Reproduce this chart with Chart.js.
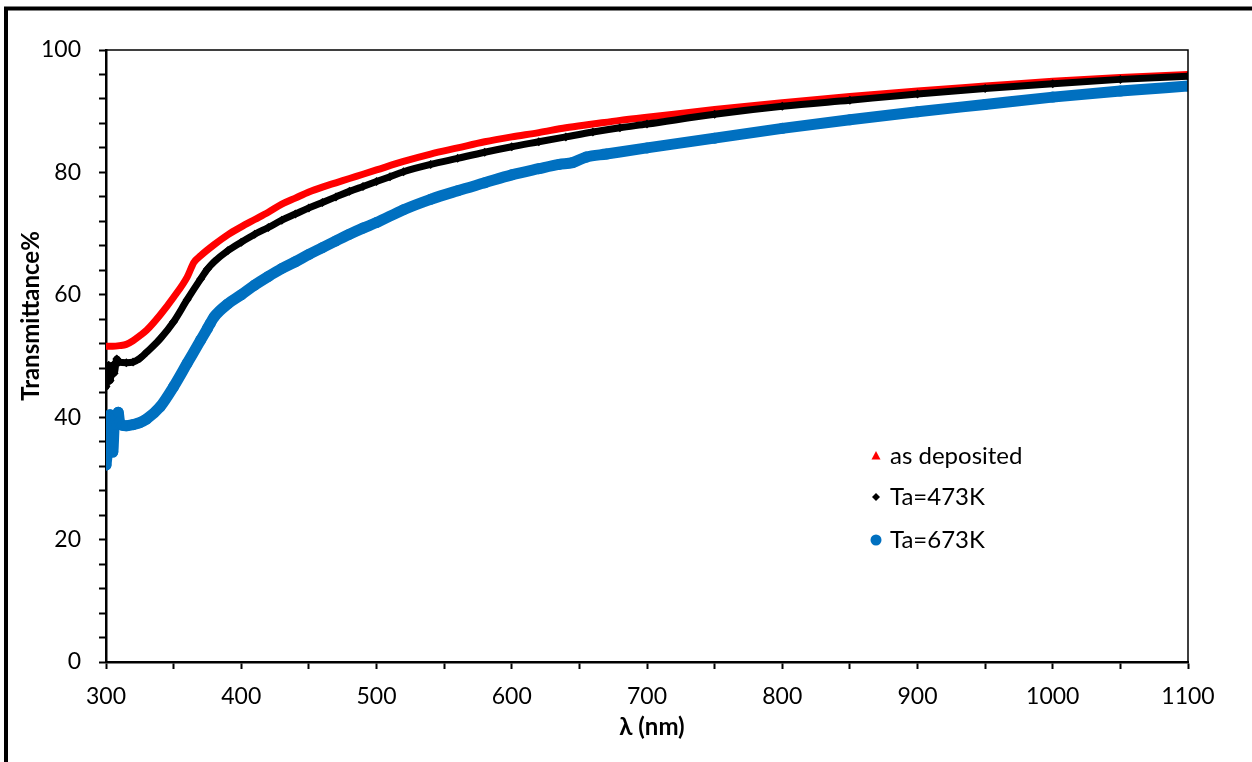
<!DOCTYPE html>
<html>
<head>
<meta charset="utf-8">
<script src="https://cdn.jsdelivr.net/npm/chart.js@4.4.0/dist/chart.umd.min.js"></script>
<style>
  html, body { margin: 0; padding: 0; background: #fff; }
  #wrap { width: 1252px; height: 762px; position: relative; }
</style>
</head>
<body>
<div id="wrap"><canvas id="chart" width="1252" height="762"></canvas></div>
<script>
// wavelength (nm) and transmittance (%)
const asDepX = [300, 305, 310, 315, 320, 325, 330, 340, 350, 360, 365, 370, 380, 390, 400, 410, 420, 430, 440, 450, 460, 470, 480, 490, 500, 520, 540, 560, 580, 600, 620, 640, 660, 680, 700, 750, 800, 850, 900, 950, 1000, 1050, 1100];
const asDepY = [51.6, 51.6, 51.7, 51.9, 52.5, 53.3, 54.2, 56.7, 59.6, 62.9, 65.3, 66.4, 68.2, 69.8, 71.1, 72.3, 73.5, 74.8, 75.8, 76.8, 77.6, 78.3, 79.0, 79.7, 80.4, 81.8, 83.0, 84.0, 85.0, 85.8, 86.5, 87.3, 87.9, 88.5, 89.0, 90.3, 91.4, 92.4, 93.3, 94.1, 94.9, 95.5, 96.0];

const t473X = [300, 301, 302, 303, 304, 305, 306, 308, 310, 315, 320, 325, 330, 340, 350, 360, 370, 375, 380, 390, 400, 410, 420, 430, 440, 450, 460, 470, 480, 490, 500, 510, 520, 540, 560, 580, 600, 620, 640, 660, 680, 700, 750, 800, 850, 900, 950, 1000, 1050, 1100];
const t473Y = [45.0, 46.5, 48.5, 46.0, 47.5, 48.5, 47.2, 49.5, 49.0, 48.9, 49.0, 49.6, 50.6, 52.8, 55.6, 59.2, 62.6, 64.2, 65.4, 67.2, 68.6, 69.9, 71.0, 72.2, 73.2, 74.2, 75.1, 76.0, 76.9, 77.7, 78.5, 79.3, 80.1, 81.3, 82.3, 83.3, 84.2, 85.0, 85.8, 86.6, 87.3, 87.9, 89.5, 90.8, 91.8, 92.8, 93.7, 94.5, 95.2, 95.7];

const t673X = [300, 301, 302, 303, 304, 305, 306, 307, 308, 309, 310, 312, 315, 320, 325, 330, 340, 350, 360, 370, 375, 377, 380, 390, 400, 410, 420, 430, 440, 450, 460, 470, 480, 490, 500, 520, 540, 560, 580, 600, 620, 635, 645, 655, 670, 700, 750, 800, 850, 900, 950, 1000, 1050, 1100];
const t673Y = [32.2, 34.3, 38.4, 40.4, 35.8, 34.3, 38.4, 40.0, 38.8, 40.8, 39.2, 38.7, 38.6, 38.8, 39.1, 39.7, 41.7, 45.0, 48.8, 52.6, 54.5, 55.3, 56.4, 58.5, 60.0, 61.6, 63.0, 64.3, 65.4, 66.6, 67.7, 68.8, 69.9, 70.9, 71.8, 73.9, 75.6, 77.0, 78.3, 79.6, 80.6, 81.3, 81.6, 82.5, 83.0, 84.0, 85.6, 87.2, 88.6, 89.9, 91.1, 92.3, 93.3, 94.1];

const seriesNames = ["as deposited", "Ta=473K", "Ta=673K"];
const xTitle = "λ (nm)";
const yTitle = "Transmittance%";
const FONT = "Lato, 'Open Sans', sans-serif";

function pts(xs, ys) {
  return xs.map((x, i) => ({ x: x, y: ys[i] }));
}

// white background, outer frame, top/right plot border, axis titles and legend
const decor = {
  id: "decor",
  beforeDraw(chart) {
    const c = chart.ctx;
    c.save();
    c.fillStyle = "#fff";
    c.fillRect(0, 0, chart.width, chart.height);
    c.strokeStyle = "#000";
    c.lineWidth = 4;
    c.beginPath();
    c.moveTo(6, chart.height);
    c.lineTo(6, 8.5);
    c.lineTo(chart.width, 8.5);
    c.stroke();
    c.restore();
  },
  afterDraw(chart) {
    const c = chart.ctx;
    const a = chart.chartArea;
    c.save();
    c.strokeStyle = "#000";
    c.lineWidth = 1.5;
    c.beginPath();
    c.moveTo(a.left, a.top);
    c.lineTo(a.right, a.top);
    c.lineTo(a.right, a.bottom);
    c.stroke();

    // axis titles
    c.fillStyle = "#000";
    c.font = "bold 24px " + FONT;
    c.textAlign = "center";
    c.textBaseline = "middle";
    c.fillText(xTitle, 652, 727);
    c.save();
    c.translate(31, 316);
    c.rotate(-Math.PI / 2);
    c.fillText(yTitle, 0, 0);
    c.restore();

    // legend
    const lx = 876, ly = [456, 497, 540];
    c.font = "24px " + FONT;
    c.textAlign = "left";
    seriesNames.forEach((n, i) => c.fillText(n, lx + 14, ly[i]));
    c.fillStyle = "#ff0000";
    c.beginPath();
    c.moveTo(lx, ly[0] - 5);
    c.lineTo(lx + 4.5, ly[0] + 3.5);
    c.lineTo(lx - 4.5, ly[0] + 3.5);
    c.closePath();
    c.fill();
    c.fillStyle = "#000";
    c.beginPath();
    c.moveTo(lx, ly[1] - 4);
    c.lineTo(lx + 4, ly[1]);
    c.lineTo(lx, ly[1] + 4);
    c.lineTo(lx - 4, ly[1]);
    c.closePath();
    c.fill();
    c.fillStyle = "#0070c0";
    c.beginPath();
    c.arc(lx, ly[2], 5.5, 0, Math.PI * 2);
    c.fill();
    c.restore();
  }
};

new Chart(document.getElementById("chart"), {
  type: "scatter",
  data: {
    datasets: [
      {
        label: seriesNames[0],
        data: pts(asDepX, asDepY),
        showLine: true,
        borderColor: "#ff0000",
        backgroundColor: "#ff0000",
        borderWidth: 7,
        pointRadius: 0,
        order: 3
      },
      {
        label: seriesNames[1],
        data: pts(t473X, t473Y),
        showLine: true,
        borderColor: "#000000",
        backgroundColor: "#000000",
        borderWidth: 7,
        pointStyle: "rectRot",
        pointRadius: 4.5,
        pointBorderWidth: 0,
        order: 2
      },
      {
        label: seriesNames[2],
        data: pts(t673X, t673Y),
        showLine: true,
        borderColor: "#0070c0",
        backgroundColor: "#0070c0",
        borderWidth: 11,
        pointStyle: "circle",
        pointRadius: 5.5,
        pointBorderWidth: 0,
        order: 1
      }
    ]
  },
  options: {
    responsive: false,
    animation: false,
    layout: { padding: { top: 50, right: 64, left: 0, bottom: 0 } },
    elements: {
      line: { borderCapStyle: "round", borderJoinStyle: "round", cubicInterpolationMode: "monotone" }
    },
    plugins: {
      legend: { display: false },
      tooltip: { enabled: false }
    },
    scales: {
      x: {
        type: "linear",
        min: 300,
        max: 1100,
        afterFit: s => { s.height = 100; },
        border: { display: true, color: "#000", width: 2.5 },
        grid: { drawOnChartArea: false, drawTicks: true, tickLength: 7, tickWidth: 2, tickColor: "#000" },
        ticks: {
          stepSize: 50,
          autoSkip: false,
          maxRotation: 0,
          padding: 14,
          color: "#000",
          font: { family: FONT, size: 23 },
          callback: v => (v % 100 === 0 ? v : "")
        }
      },
      y: {
        min: 0,
        max: 100,
        afterFit: s => { s.width = 106; },
        border: { display: true, color: "#000", width: 2.5 },
        grid: { drawOnChartArea: false, drawTicks: true, tickLength: 7, tickWidth: 2, tickColor: "#000" },
        ticks: {
          stepSize: 4,
          autoSkip: false,
          padding: 18,
          color: "#000",
          font: { family: FONT, size: 23 },
          callback: v => (v % 20 === 0 ? v : "")
        }
      }
    }
  },
  plugins: [decor]
});
</script>
</body>
</html>
